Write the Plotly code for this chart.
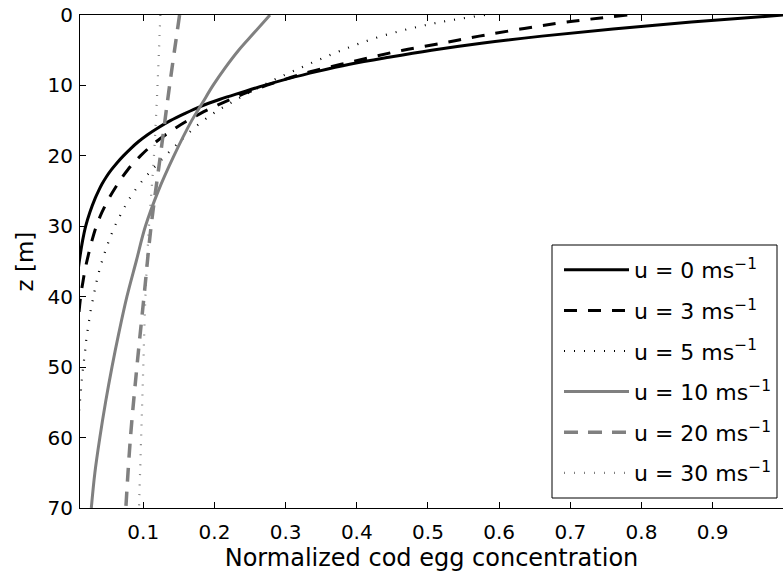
import plotly.graph_objects as go

FONT = "DejaVu Sans"
GRAY = "#808080"

# Wind speed cases (legend labels)
wind_labels = [
    "u = 0 ms<sup>\u22121</sup>",
    "u = 3 ms<sup>\u22121</sup>",
    "u = 5 ms<sup>\u22121</sup>",
    "u = 10 ms<sup>\u22121</sup>",
    "u = 20 ms<sup>\u22121</sup>",
    "u = 30 ms<sup>\u22121</sup>",
]

# Depth (m) and normalized egg concentration for each wind speed
depth_u0 = [0, 1, 2, 3, 4, 5, 6, 7, 8, 9, 10, 11, 12, 13, 14, 15, 16, 17, 18, 19, 20, 21, 22, 23, 24, 25, 26,
            28, 30, 32, 34, 36, 40, 50, 70]
conc_u0 = [1.0, 0.87, 0.76, 0.66, 0.575, 0.505, 0.445, 0.39, 0.345, 0.305, 0.27, 0.238, 0.207, 0.18, 0.158, 0.138,
           0.121, 0.106, 0.093, 0.082, 0.072, 0.063, 0.055, 0.048, 0.042, 0.037, 0.0325, 0.025, 0.019, 0.0148,
           0.0115, 0.0088, 0.0052, 0.0014, 0.0001]

depth_u3 = [0, 1, 2, 3, 4, 5, 6, 7, 8, 9, 10, 11, 12, 13, 14, 15, 16, 18, 20, 22, 24, 26, 28, 30, 32, 34, 36, 38,
            40, 45, 55, 70]
conc_u3 = [0.78, 0.695, 0.63, 0.572, 0.52, 0.465, 0.42, 0.378, 0.336, 0.303, 0.273, 0.246, 0.222, 0.2, 0.18, 0.162,
           0.146, 0.118, 0.096, 0.078, 0.064, 0.052, 0.042, 0.034, 0.028, 0.023, 0.0185, 0.015, 0.012, 0.0075,
           0.003, 0.0008]

depth_u5 = [0, 1, 2, 3, 4, 5, 6, 7, 8, 9, 10, 11, 12, 13, 14, 16, 18, 20, 22, 24, 26, 28, 30, 32, 34, 36, 38, 40,
            42, 44, 46, 48, 50, 52, 54, 56, 60, 70]
conc_u5 = [0.58, 0.518, 0.472, 0.435, 0.405, 0.379, 0.355, 0.332, 0.31, 0.288, 0.268, 0.249, 0.231, 0.214, 0.198,
           0.172, 0.151, 0.131, 0.112, 0.095, 0.081, 0.07, 0.06, 0.052, 0.045, 0.039, 0.034, 0.03, 0.026, 0.023,
           0.02, 0.018, 0.0155, 0.0135, 0.0118, 0.01, 0.0075, 0.004]

depth_u10 = [0, 2.5, 5, 7.5, 10, 12.5, 15, 20, 25, 30, 35, 40, 45, 50, 55, 60, 65, 70]
conc_u10 = [0.278, 0.256, 0.234, 0.215, 0.198, 0.183, 0.168, 0.143, 0.121, 0.103, 0.09, 0.077, 0.066, 0.056,
            0.047, 0.039, 0.032, 0.027]

depth_u20 = [0, 10, 20, 30, 40, 50, 60, 70]
conc_u20 = [0.151, 0.137, 0.124, 0.111, 0.101, 0.091, 0.082, 0.0755]

depth_u30 = [0, 10, 20, 30, 40, 50, 60, 70]
conc_u30 = [0.124, 0.120, 0.115, 0.108, 0.103, 0.100, 0.097, 0.094]

x_ticks = [0.1, 0.2, 0.3, 0.4, 0.5, 0.6, 0.7, 0.8, 0.9, 1.0]
z_ticks = [0, 10, 20, 30, 40, 50, 60, 70]

series = [
    (depth_u0, conc_u0),
    (depth_u3, conc_u3),
    (depth_u5, conc_u5),
    (depth_u10, conc_u10),
    (depth_u20, conc_u20),
    (depth_u30, conc_u30),
]

# Line styles: black for low winds, grey for strong winds
styles = [
    dict(color="black", width=3, dash="solid"),
    dict(color="black", width=3, dash="13px,11px"),
    dict(color="black", width=2.2, dash="1px,9px"),
    dict(color=GRAY, width=3, dash="solid"),
    dict(color=GRAY, width=3.5, dash="14px,10px"),
    dict(color=GRAY, width=2.2, dash="1px,9px"),
]

fig = go.Figure()
for i, ((z, c), label, st) in enumerate(zip(series, wind_labels, styles)):
    fig.add_trace(go.Scatter(
        x=c, y=z, mode="lines", name=label,
        line=dict(shape="spline", smoothing=1.0, **st),
        legendgroup=f"g{i}",
    ))

x_min, x_max = 0.0111, 0.9988

# Plot-area geometry in pixels, used to place the legend frame
L, R, T, B = 80, 783, 15, 508
PW, PH = R - L, B - T


def px_x(p):
    return (p - L) / PW


def px_y(p):
    return (B - p) / PH


axis_common = dict(
    ticks="inside", ticklen=6, tickwidth=1, tickcolor="black",
    showgrid=False, zeroline=False,
    tickfont=dict(family=FONT, size=20, color="black"),
)

fig.update_layout(
    width=783, height=573,
    margin=dict(l=L, r=783 - R, t=T, b=573 - B),
    paper_bgcolor="white", plot_bgcolor="white",
    font=dict(family=FONT, size=20, color="black"),
    showlegend=True,
    legend=dict(
        x=px_x(559), y=px_y(249),
        xanchor="left", yanchor="top",
        borderwidth=0, bgcolor="rgba(0,0,0,0)",
        font=dict(family=FONT, size=22, color="black"),
        itemwidth=65, tracegroupgap=9,
    ),
    xaxis=dict(
        range=[x_min, x_max], tickvals=x_ticks,
        showline=True, linecolor="black", linewidth=1, mirror="ticks",
        title=dict(text="Normalized cod egg concentration",
                   font=dict(family=FONT, size=24, color="black"), standoff=5),
        ticklabelstandoff=6,
        **axis_common,
    ),
    yaxis=dict(
        range=[70, 0], tickvals=z_ticks,
        showline=True, linecolor="black", linewidth=1,
        title=dict(text="z [m]", font=dict(family=FONT, size=23, color="black"), standoff=7),
        ticklabelstandoff=2,
        **axis_common,
    ),
    yaxis2=dict(
        overlaying="y", side="right", anchor="x",
        range=[70, 0], tickvals=z_ticks, showticklabels=False, showline=False,
        **axis_common,
    ),
)

# Legend frame: white box with a black border over the curves
fig.add_shape(
    type="rect", xref="paper", yref="paper",
    x0=px_x(552), x1=px_x(777), y0=px_y(498), y1=px_y(245),
    line=dict(color="black", width=1), fillcolor="white", layer="above",
)

# Tick label for 1.0 sits on the right edge of the frame
fig.add_annotation(
    x=1.0, y=0, xref="x", yref="paper", text="1", showarrow=False,
    yanchor="top", yshift=-10, font=dict(family=FONT, size=20, color="black"),
)

fig.write_html("out.html")
